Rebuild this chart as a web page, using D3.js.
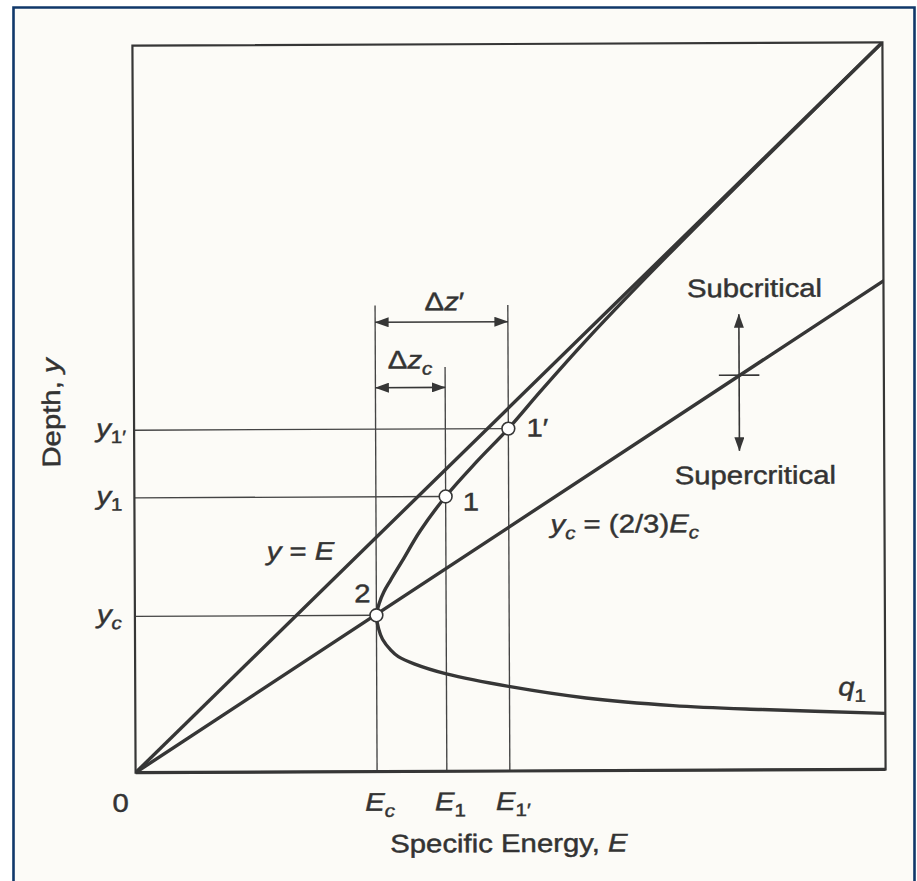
<!DOCTYPE html>
<html>
<head>
<meta charset="utf-8">
<script src="https://cdn.jsdelivr.net/npm/d3@7"></script>
<style>
  html, body { margin: 0; padding: 0; background: #ffffff; }
  svg { display: block; }
</style>
</head>
<body>
<svg id="chart" width="917" height="881"></svg>
<script>
// ---- Specific energy diagram data (plot units: 0..10 on both axes) ----
const axisMax = 10;

// characteristic states on the q1 curve
const Ec = 3.22, yc = 2.15;     // critical point 2, yc = (2/3)Ec
const E1 = 4.15, y1 = 3.78;     // state 1
const E1p = 4.99, y1p = 4.71;   // state 1'

// straight reference lines (E, y)
const lineEqual = [[0, 0], [10, 10]];        // y = E
const lineCritical = [[0, 0], [10, 6.72]];   // yc = (2/3)E

// q1 curve, subcritical branch from the critical point upward
const curveUpper = [
  [3.22, 2.15], [3.26, 2.32], [3.32, 2.47], [3.41, 2.63], [3.57, 2.90],
  [3.81, 3.31], [4.15, 3.78], [4.56, 4.25], [4.99, 4.71], [5.42, 5.22],
  [6.05, 5.94], [6.90, 6.85], [7.90, 7.88], [9.00, 8.99], [10.0, 10.0]
];
// q1 curve, supercritical branch from the critical point outward
const curveLower = [
  [3.22, 2.15], [3.25, 1.96], [3.30, 1.82], [3.41, 1.67], [3.51, 1.58],
  [3.72, 1.48], [4.15, 1.34], [5.00, 1.16], [6.01, 1.00], [7.17, 0.89],
  [8.35, 0.83], [10.0, 0.77]
];

// guide extents
const guideTopEc = 6.41, guideTopE1 = 5.56, guideTopE1p = 6.41;
const dzPrimeLevel = 6.18, dzCritLevel = 5.28;

// regime arrow (E position, y from/to, tick level on the critical line)
const regimeE = 8.07, regimeTop = 6.27, regimeBottom = 4.39, regimeTick = 5.43, regimeTickHalf = 0.27;

// bottom tick labels
const xTicks = [
  { v: 0,   dx: -15, parts: [{ t: "0" }], anchor: "middle" },
  { v: Ec,  dx: -12, parts: [{ t: "E", it: true }, { t: "c", it: true, sub: true }] },
  { v: E1,  dx: -12, parts: [{ t: "E", it: true }, { t: "1", sub: true }] },
  { v: E1p, dx: -14, parts: [{ t: "E", it: true }, { t: "1\u2032", sub: true }] }
];
// left tick labels
const yTicks = [
  { v: y1p, parts: [{ t: "y", it: true }, { t: "1\u2032", sub: true }] },
  { v: y1,  parts: [{ t: "y", it: true }, { t: "1", sub: true }] },
  { v: yc,  parts: [{ t: "y", it: true }, { t: "c", it: true, sub: true }] }
];

// ---- drawing ----
const FONT = "'Liberation Sans', Arial, Helvetica, sans-serif";
const INK = "#333333";
const LINE = "#363636";
const SX = 1.15;

const svg = d3.select("#chart");

// paper and frame
svg.append("rect").attr("x", 13).attr("y", 7).attr("width", 902).attr("height", 881)
  .attr("fill", "#fcfbf7");
svg.append("path").attr("d", "M13.5,881 V7.5 H914.5 V881")
  .attr("fill", "none").attr("stroke", "#10386a").attr("stroke-width", 2.6);

const x = d3.scaleLinear().domain([0, axisMax]).range([134, 884]);
const y = d3.scaleLinear().domain([0, axisMax]).range([771, 44]);

const defs = svg.append("defs");
defs.append("clipPath").attr("id", "plotClip").append("rect")
  .attr("x", x(0)).attr("y", y(axisMax)).attr("width", x(axisMax) - x(0)).attr("height", y(0) - y(axisMax));
defs.append("marker").attr("id", "head")
  .attr("viewBox", "0 0 14 10").attr("refX", 13.5).attr("refY", 5)
  .attr("markerWidth", 14).attr("markerHeight", 10)
  .attr("markerUnits", "userSpaceOnUse").attr("orient", "auto-start-reverse")
  .append("path").attr("d", "M0,0 L14,5 L0,10 Z").attr("fill", "#363636");

const g = svg.append("g").attr("transform", "rotate(-0.25, 509, 407)");

function rich(parent, px, py, parts, opt = {}) {
  const size = opt.size || 25.5;
  const t = parent.append("text")
    .attr("transform", `translate(${px},${py})` + (opt.rotate ? ` rotate(${opt.rotate})` : "") + ` scale(${SX},1)`)
    .attr("text-anchor", opt.anchor || "start")
    .attr("font-family", FONT).attr("font-size", size).attr("fill", INK)
    .attr("stroke", INK).attr("stroke-width", 0.45);
  let shift = 0;
  parts.forEach(p => {
    const target = p.sub ? size * 0.24 : 0;
    const ts = t.append("tspan").text(p.t);
    if (target - shift !== 0) ts.attr("dy", target - shift);
    shift = target;
    if (p.it) ts.attr("font-style", "italic");
    if (p.sub) ts.attr("font-size", size * 0.7);
  });
  return t;
}

const lineGen = d3.line().x(d => x(d[0])).y(d => y(d[1]));

// thin guide lines
const guides = g.append("g").attr("stroke", "#444444").attr("stroke-width", 1.35).attr("fill", "none");
[[yc, Ec], [y1, E1], [y1p, E1p]].forEach(([yy, ee]) => {
  guides.append("path").attr("d", lineGen([[0, yy], [ee, yy]]));
});
[[Ec, guideTopEc], [E1, guideTopE1], [E1p, guideTopE1p]].forEach(([ee, top]) => {
  guides.append("path").attr("d", lineGen([[ee, 0], [ee, top]]));
});

// dimension arrows
const dims = g.append("g").attr("stroke", "#363636").attr("stroke-width", 1.6).attr("fill", "none");
dims.append("path").attr("d", lineGen([[Ec, dzPrimeLevel], [E1p, dzPrimeLevel]]))
  .attr("marker-start", "url(#head)").attr("marker-end", "url(#head)");
dims.append("path").attr("d", lineGen([[Ec, dzCritLevel], [E1, dzCritLevel]]))
  .attr("marker-start", "url(#head)").attr("marker-end", "url(#head)");

// regime arrow across the critical line
dims.append("path").attr("d", lineGen([[regimeE, regimeTop], [regimeE, regimeBottom]]))
  .attr("marker-start", "url(#head)").attr("marker-end", "url(#head)");
dims.append("path").attr("d", lineGen([[regimeE - regimeTickHalf, regimeTick], [regimeE + regimeTickHalf, regimeTick]]));

// plot frame
const frame = g.append("g").attr("fill", "none").attr("stroke", LINE);
frame.append("rect").attr("x", x(0)).attr("y", y(axisMax))
  .attr("width", x(axisMax) - x(0)).attr("height", y(0) - y(axisMax)).attr("stroke-width", 2.2);
frame.append("path").attr("d", lineGen([[0, 0], [axisMax, 0]])).attr("stroke-width", 3.2);

// heavy lines
const heavy = g.append("g").attr("clip-path", "url(#plotClip)")
  .attr("fill", "none").attr("stroke", LINE).attr("stroke-linecap", "round").attr("stroke-width", 3.4);
heavy.append("path").attr("d", lineGen(lineEqual));
heavy.append("path").attr("d", lineGen(lineCritical));
const curveGen = d3.line().x(d => x(d[0])).y(d => y(d[1])).curve(d3.curveCatmullRom.alpha(0.5));
heavy.append("path").attr("d", curveGen(curveLower.slice().reverse().concat(curveUpper.slice(1))));

// state markers
g.append("g").selectAll("circle")
  .data([[Ec, yc], [E1, y1], [E1p, y1p]])
  .join("circle")
  .attr("cx", d => x(d[0])).attr("cy", d => y(d[1])).attr("r", 6.4)
  .attr("fill", "#ffffff").attr("stroke", "#363636").attr("stroke-width", 1.6);

// axis tick labels
const labels = g.append("g");
xTicks.forEach(t => rich(labels, x(t.v) + t.dx, 810, t.parts, { anchor: t.anchor }));
yTicks.forEach(t => rich(labels, 96, y(t.v) + 6.5, t.parts));

// point labels
rich(labels, x(E1p) + 18, y(y1p) + 8, [{ t: "1\u2032" }]);
rich(labels, x(E1) + 17, y(y1) + 14, [{ t: "1" }]);
rich(labels, x(Ec) - 22, y(yc) - 13, [{ t: "2" }]);

// line and curve labels
rich(labels, 266, 559, [{ t: "y", it: true }, { t: " = " }, { t: "E", it: true }]);
rich(labels, 550, 533, [{ t: "y", it: true }, { t: "c", it: true, sub: true }, { t: " = (2/3)" },
  { t: "E", it: true }, { t: "c", it: true, sub: true }]);
rich(labels, 837, 697, [{ t: "q", it: true }, { t: "1", sub: true }]);

// dimension labels
rich(labels, 425, 310, [{ t: "\u0394" }, { t: "z", it: true }, { t: "\u2032" }]);
rich(labels, 388, 368, [{ t: "\u0394" }, { t: "z", it: true }, { t: "c", it: true, sub: true }]);

// regime labels
rich(labels, 755, 298, [{ t: "Subcritical" }], { anchor: "middle" });
rich(labels, 755, 485, [{ t: "Supercritical" }], { anchor: "middle" });

// axis titles
rich(labels, 507, 852, [{ t: "Specific Energy, " }, { t: "E", it: true }], { anchor: "middle" });
rich(labels, 60, 411, [{ t: "Depth, " }, { t: "y", it: true }], { anchor: "middle", rotate: -90 });
</script>
</body>
</html>
